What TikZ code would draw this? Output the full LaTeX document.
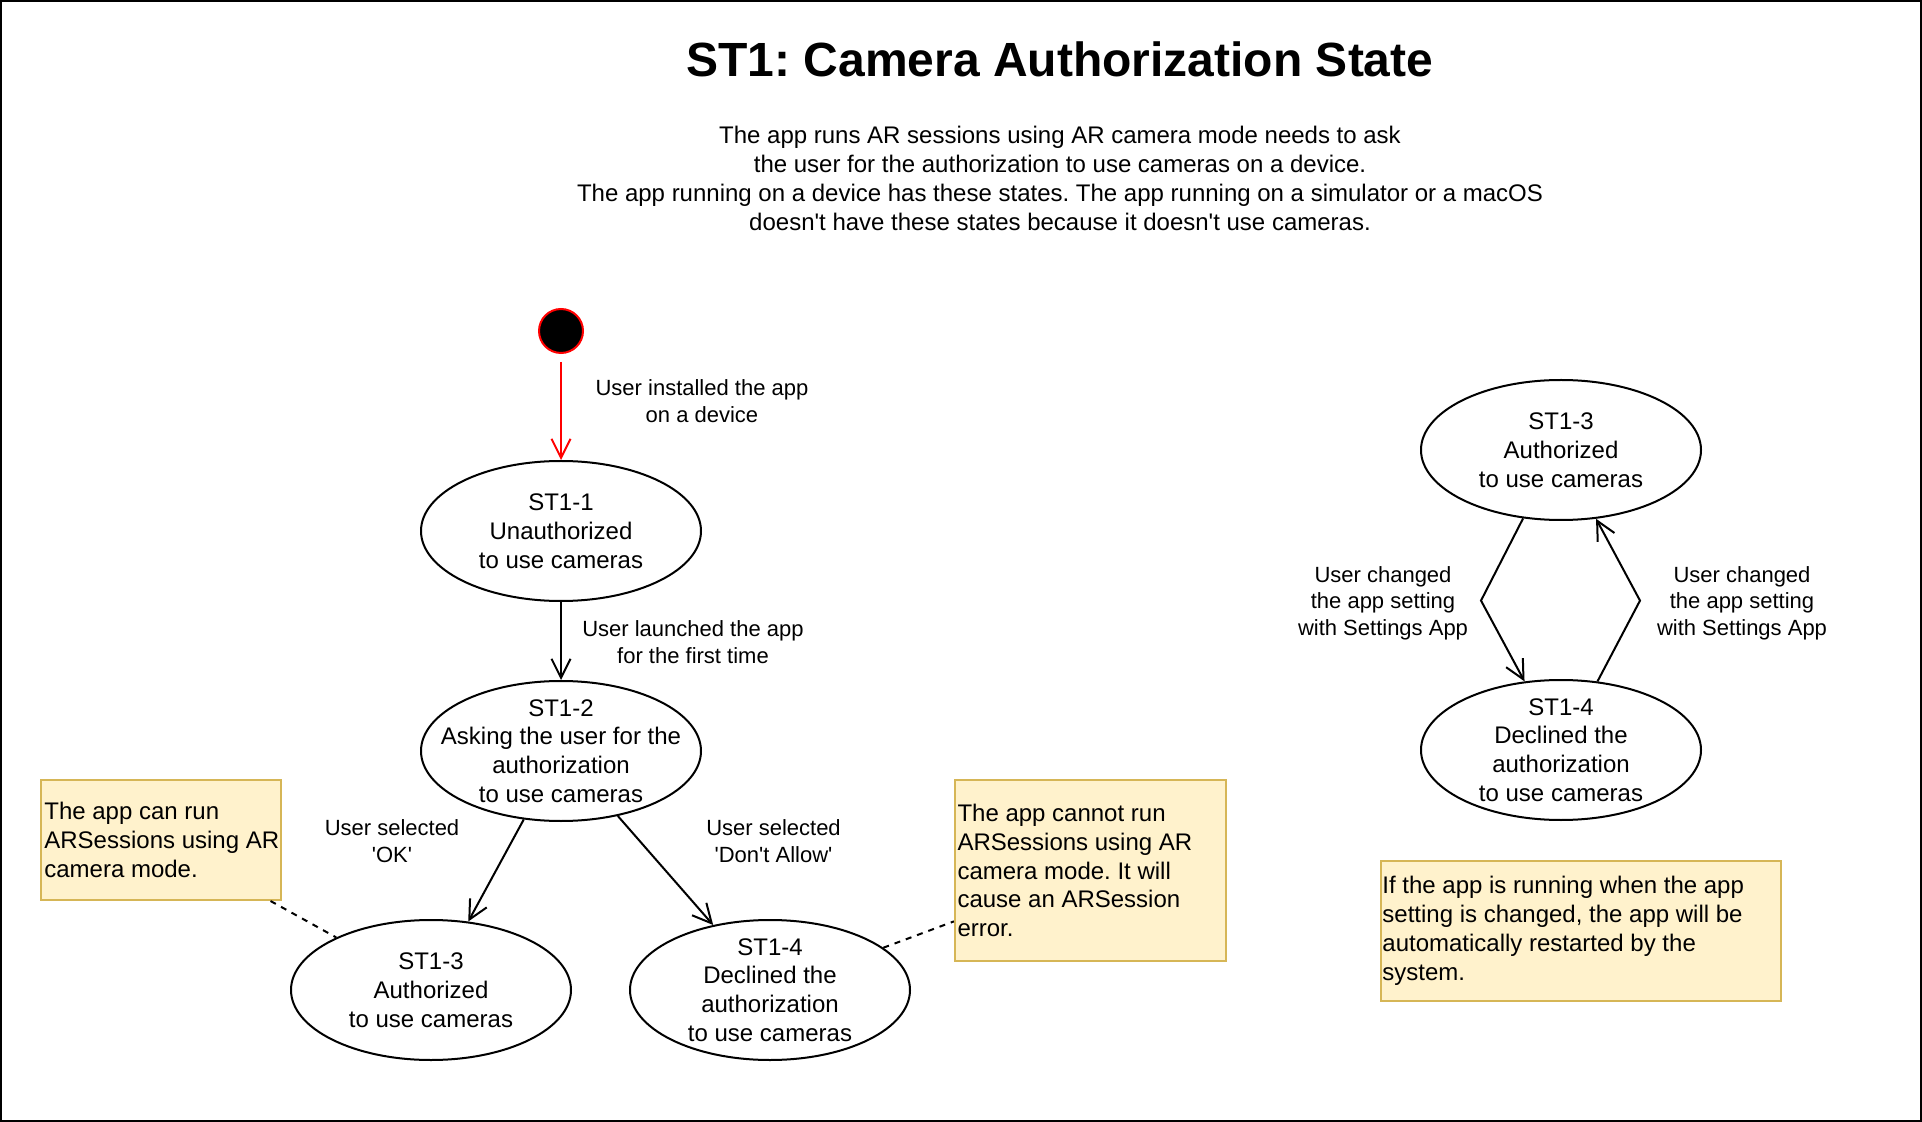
\documentclass[tikz,border=0pt]{standalone}
\usepackage{fontspec}
\setmainfont{Liberation Sans}
\usetikzlibrary{arrows.meta,shapes.geometric}
\definecolor{notefill}{HTML}{FFF2CC}
\definecolor{noteline}{HTML}{D6B656}
\newcommand\myq{\textquotesingle}
\frenchspacing
\begin{document}
\begin{tikzpicture}[x=0.5pt,y=-0.5pt,
  stateE/.style={ellipse, draw, line width=1pt, minimum width=140pt, minimum height=70pt, inner sep=0pt},
  sttext/.style={align=center, font=\fontsize{12}{14.4}\selectfont, inner sep=0pt},
  lbl/.style={align=center, font=\fontsize{11}{13.2}\selectfont, inner sep=0pt},
  notebox/.style={draw=noteline, fill=notefill, line width=1pt, inner sep=0pt},
  notetext/.style={align=left, anchor=west, font=\fontsize{12}{14.4}\selectfont, inner sep=0pt},
  arr/.style={line width=1pt, -{Straight Barb[length=9.5pt,width=9.5pt]}},
  dsh/.style={line width=1pt, dash pattern=on 3pt off 3pt},
]
\useasboundingbox (0,0) rectangle (1922,1122);
\draw[line width=1.2pt] (1,1) rectangle (1921,1121);

\node[font=\fontsize{24}{28.8}\selectfont\bfseries, inner sep=0pt] (title) at (1060,59) {ST1: Camera Authorization State};
\node[align=center, font=\fontsize{12}{14.5}\selectfont, inner sep=0pt] (desc) at (1060,178.5)
  {The app runs AR sessions using AR camera mode needs to ask\\
   the user for the authorization to use cameras on a device.\\
   The app running on a device has these states. The app running on a simulator or a macOS\\
   doesn\myq t have these states because it doesn\myq t use cameras.};

% start
\node[circle, fill=black, draw=red, line width=1pt, minimum size=22pt, inner sep=0pt] (start) at (561,331) {};

% states left
\node[stateE] (s11) at (561,531) {};
\node[sttext] (s11t) at (s11) {ST1-1\\Unauthorized\\to use cameras};
\node[stateE] (s12) at (561,751) {};
\node[sttext] (s12t) at (s12) {ST1-2\\Asking the user for the\\authorization\\to use cameras};
\node[stateE] (s13) at (431,990) {};
\node[sttext] (s13t) at (s13) {ST1-3\\Authorized\\to use cameras};
\node[stateE] (s14) at (770,990) {};
\node[sttext] (s14t) at (s14) {ST1-4\\Declined the\\authorization\\to use cameras};

% states right
\node[stateE] (r13) at (1561,450) {};
\node[sttext] (r13t) at (r13) {ST1-3\\Authorized\\to use cameras};
\node[stateE] (r14) at (1561,750) {};
\node[sttext] (r14t) at (r14) {ST1-4\\Declined the\\authorization\\to use cameras};

% edges
\draw[arr, red, shorten <=4pt] (start) -- (s11);
\node[lbl] (l1) at (702,401) {User installed the app\\on a device};
\draw[arr] (s11) -- (s12);
\node[lbl] (l2) at (693,642) {User launched the app\\for the first time};
\draw[arr] (s12) -- (s13);
\node[lbl] (l3) at (392,841) {User selected\\\myq OK\myq};
\draw[arr] (s12) -- (s14);
\node[lbl] (l4) at (773.5,841) {User selected\\\myq Don\myq t Allow\myq};

\coordinate (bl) at (1481,600.6);
\coordinate (br) at (1640,600.6);
\draw[arr] (r13.241.8) -- (bl) -- (r14.118.6);
\draw[arr] (r14.62.3) -- (br) -- (r13.297.3);
\node[lbl] (l5) at (1383,603) {User changed\\the app setting\\with Settings App};
\node[lbl] (l6) at (1742,603) {User changed\\the app setting\\with Settings App};

% notes
\node[notebox, minimum width=120pt, minimum height=60pt] (n1) at (160.6,840) {};
\node[notetext] (n1t) at ([xshift=2.2pt]n1.west) {The app can run\\ARSessions using AR\\camera mode.};
\draw[dsh] (n1) -- (s13);

\node[notebox, minimum width=135.5pt, minimum height=90.5pt] (n2) at (1090.4,870.5) {};
\node[notetext] (n2t) at ([xshift=1.6pt]n2.west) {The app cannot run\\ARSessions using AR\\camera mode. It will\\cause an ARSession\\error.};
\draw[dsh] (s14) -- (n2);

\node[notebox, minimum width=200pt, minimum height=70pt] (n3) at (1581,930.7) {};
\node[notetext] (n3t) at ([xshift=1pt]n3.west) {If the app is running when the app\\setting is changed, the app will be\\automatically restarted by the\\system.};
\end{tikzpicture}
\end{document}
